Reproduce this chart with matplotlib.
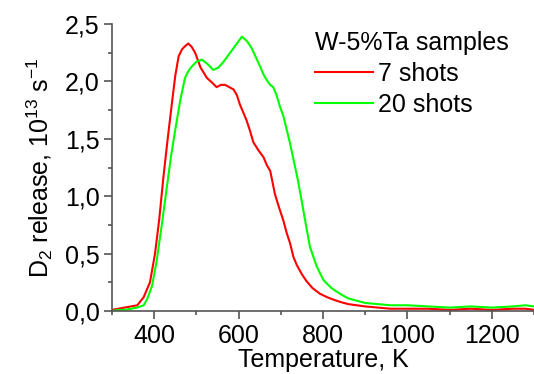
import matplotlib
matplotlib.use("Agg")
import matplotlib.pyplot as plt
from matplotlib.ticker import MultipleLocator, FuncFormatter

plt.rcParams['font.family'] = ['Liberation Sans', 'DejaVu Sans']
plt.rcParams['mathtext.fontset'] = 'custom'
plt.rcParams['mathtext.rm'] = 'Liberation Sans'
plt.rcParams['mathtext.it'] = 'Liberation Sans'

# 7 shots (red)
t_red = [300, 315, 330, 345, 360, 375, 390, 402, 412, 422, 432, 442, 450, 458, 466, 474,
         481, 489, 497, 510, 525, 537, 548, 558, 568, 578, 588, 596, 603, 611, 619, 627,
         635, 647, 659, 667, 675, 686, 696, 706, 714, 722, 730, 738, 750, 761, 775, 793,
         810, 824, 840, 860, 880, 900, 930, 960, 1000, 1050, 1100, 1150, 1200, 1250, 1280, 1300]
d_red = [0.01, 0.02, 0.03, 0.04, 0.05, 0.12, 0.25, 0.50, 0.80, 1.17, 1.50, 1.81, 2.05, 2.22, 2.28, 2.31,
         2.33, 2.30, 2.25, 2.12, 2.03, 1.99, 1.95, 1.97, 1.97, 1.95, 1.93, 1.88, 1.80, 1.73, 1.66, 1.57,
         1.47, 1.40, 1.34, 1.27, 1.22, 1.02, 0.90, 0.79, 0.68, 0.59, 0.47, 0.40, 0.32, 0.26, 0.20, 0.15,
         0.12, 0.10, 0.08, 0.06, 0.05, 0.04, 0.03, 0.02, 0.02, 0.02, 0.01, 0.02, 0.01, 0.02, 0.02, 0.01]

# 20 shots (green)
t_green = [300, 315, 330, 345, 360, 375, 383, 395, 406, 418, 430, 440, 450, 462, 473, 481,
           489, 500, 513, 527, 540, 552, 564, 574, 584, 596, 608, 620, 631, 641, 651, 659,
           667, 675, 682, 690, 698, 706, 714, 722, 730, 740, 749, 761, 769, 785, 801, 809,
           820, 832, 845, 860, 880, 900, 930, 960, 1000, 1050, 1100, 1150, 1200, 1250, 1280, 1300]
d_green = [0.00, 0.01, 0.01, 0.02, 0.03, 0.05, 0.10, 0.22, 0.44, 0.75, 1.08, 1.35, 1.58, 1.84, 2.03, 2.09,
           2.13, 2.17, 2.19, 2.15, 2.10, 2.12, 2.17, 2.22, 2.27, 2.33, 2.39, 2.35, 2.29, 2.21, 2.13, 2.06,
           2.01, 1.97, 1.95, 1.88, 1.78, 1.70, 1.58, 1.46, 1.32, 1.15, 0.97, 0.72, 0.56, 0.39, 0.27, 0.24,
           0.20, 0.17, 0.14, 0.11, 0.09, 0.07, 0.06, 0.05, 0.05, 0.04, 0.03, 0.04, 0.03, 0.04, 0.05, 0.04]

fig = plt.figure(figsize=(5.34, 3.74), dpi=100)
ax = fig.add_axes([0.2097, 0.1684, 0.7903, 0.7674])

ax.plot(t_red, d_red, color='#ff0000', lw=1.5, label='7 shots')
ax.plot(t_green, d_green, color='#00ff00', lw=1.5, label='20 shots')

ax.set_xlim(300, 1300)
ax.set_ylim(0, 2.5)
ax.xaxis.set_major_locator(MultipleLocator(200))
ax.xaxis.set_minor_locator(MultipleLocator(100))
ax.yaxis.set_major_locator(MultipleLocator(0.5))
ax.yaxis.set_minor_locator(MultipleLocator(0.25))
ax.yaxis.set_major_formatter(FuncFormatter(lambda v, p: f"{v:.1f}".replace('.', ',')))

for s in ['top', 'right']:
    ax.spines[s].set_visible(False)
for s in ['left', 'bottom']:
    ax.spines[s].set_color('#555555')
    ax.spines[s].set_linewidth(1.2)
ax.tick_params(which='major', direction='out', length=6, width=1.2, color='#555555', labelsize=18)
ax.tick_params(which='minor', direction='out', length=3, width=1.2, color='#555555')
ax.tick_params(axis='y', pad=3)

ax.set_xlabel('Temperature, K', fontsize=18, labelpad=0)
ax.set_ylabel('D$_2$ release, 10$^{13}$ s$^{-1}$', fontsize=18, labelpad=7)

leg = ax.legend(title='W-5%Ta samples', frameon=False, fontsize=18, title_fontsize=18,
                loc='upper left', bbox_to_anchor=(315 / 534, 1 - 31 / 374),
                bbox_transform=fig.transFigure, handlelength=2.3, borderpad=0,
                handletextpad=0.2, labelspacing=0.28, alignment='left', borderaxespad=0)

fig.savefig('out.png', dpi=100)
